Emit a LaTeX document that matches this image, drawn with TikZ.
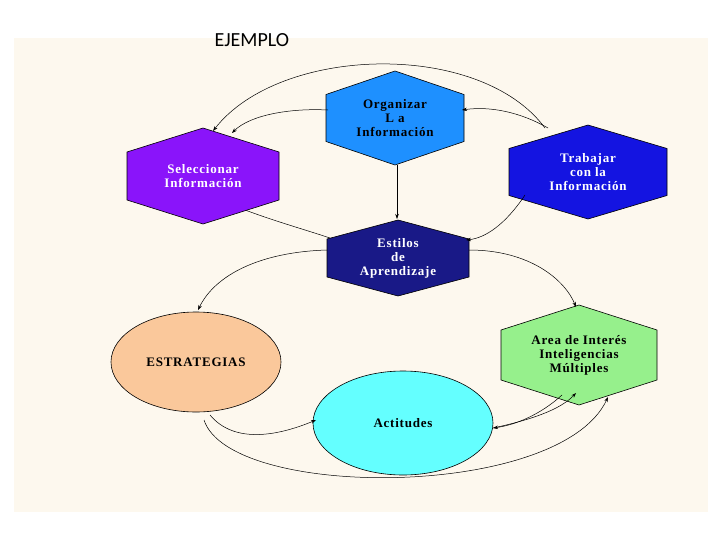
\documentclass[tikz,border=0pt]{standalone}
\usepackage{fontspec}
\setmainfont{Liberation Serif}[LetterSpace=6]
\newfontfamily\titlefont{Carlito}
\usetikzlibrary{arrows.meta,shapes.geometric}
\definecolor{corg}{RGB}{30,144,255}
\definecolor{csel}{RGB}{138,20,250}
\definecolor{ctra}{RGB}{20,20,225}
\definecolor{cest}{RGB}{25,25,135}
\definecolor{care}{RGB}{150,240,140}
\definecolor{cestr}{RGB}{250,200,155}
\definecolor{cact}{RGB}{100,255,255}
\definecolor{cbg}{RGB}{253,248,238}
\newcommand\myhex[6]{%
  \fill[#6,draw=black,line width=0.6pt] (#2,#3-#5) -- (#2+#4,#3-#5/2) -- (#2+#4,#3+#5/2) -- (#2,#3+#5) -- (#2-#4,#3+#5/2) -- (#2-#4,#3-#5/2) -- cycle;
  \coordinate (#1) at (#2,#3);}
\begin{document}
\begin{tikzpicture}[x=1pt,y=-1pt,
  lbl/.style={font=\bfseries\fontsize{13}{14}\selectfont,align=center,inner sep=0pt},
  conn/.style={line width=0.5pt,-{Stealth[length=5pt,width=3.5pt]}}]
\useasboundingbox (0,0) rectangle (728,546);
\fill[white] (0,0) rectangle (728,546);
\fill[cbg] (14,38) rectangle (708,512);
\node[font=\titlefont\fontsize{20}{22}\selectfont,anchor=base west] (title) at (211,46) {EJEMPLO};
% connectors behind shapes
\coordinate (e1) at (232,205); \coordinate (e2) at (330,238);
\draw[line width=0.5pt] (e1) .. controls (270,220) and (300,228) .. (e2);
% shapes
\myhex{org}{395}{118}{69}{47}{corg}
\node[lbl] (torg) at (org) {Organizar\\L a\\Información};
\myhex{sel}{203}{176}{76}{48}{csel}
\node[lbl,white] (tsel) at (sel) {Seleccionar\\Información};
\myhex{tra}{588}{172}{79}{47}{ctra}
\node[lbl,white] (ttra) at (tra) {Trabajar\\con la\\Información};
\myhex{est}{398}{258}{71}{38}{cest}
\node[lbl,white] (test) at (est) {Estilos\\de\\Aprendizaje};
\myhex{are}{579}{355}{78}{50}{care}
\node[lbl] (tare) at (are) {Area de Interés\\Inteligencias\\Múltiples};
\node[ellipse,draw,line width=0.6pt,fill=cestr,minimum width=170pt,minimum height=100pt,font=\bfseries\fontsize{13}{14}\selectfont] (estr) at (196,362) {ESTRATEGIAS};
\node[ellipse,draw,line width=0.6pt,fill=cact,minimum width=180pt,minimum height=104pt,font=\bfseries\fontsize{13}{14}\selectfont] (act) at (403,423) {Actitudes};
% connectors
\coordinate (a1) at (545,128); \coordinate (a2) at (213,131);
\draw[conn] (a1) .. controls (480,40) and (280,45) .. (a2);
\coordinate (b1) at (328,110); \coordinate (b2) at (232,133);
\draw[conn] (b1) .. controls (290,108) and (250,115) .. (b2);
\coordinate (c1) at (548,128); \coordinate (c2) at (462,110);
\draw[conn] (c1) .. controls (520,112) and (490,106) .. (c2);
\coordinate (d1) at (397,165); \coordinate (d2) at (397,219);
\draw[conn] (d1) -- (d2);
\coordinate (f1) at (525,195); \coordinate (f2) at (466,240);
\draw[conn] (f1) .. controls (505,225) and (485,238) .. (f2);
\coordinate (g1) at (327,250); \coordinate (g2) at (198,310);
\draw[conn] (g1) .. controls (260,252) and (215,275) .. (g2);
\coordinate (h1) at (469,250); \coordinate (h2) at (576,307);
\draw[conn] (h1) .. controls (530,250) and (565,280) .. (h2);
\coordinate (i1) at (562,395); \coordinate (i2) at (493,428);
\draw[conn] (i1) .. controls (540,415) and (515,425) .. (i2);
\coordinate (i3) at (576,393);
\draw[conn] (i2) .. controls (530,420) and (560,410) .. (i3);
\coordinate (j1) at (210,415); \coordinate (j2) at (316,420);
\draw[conn] (j1) .. controls (235,445) and (280,435) .. (j2);
\coordinate (k1) at (204,420); \coordinate (k2) at (608,397);
\draw[conn] (k1) .. controls (230,500) and (560,500) .. (k2);
\end{tikzpicture}
\end{document}
